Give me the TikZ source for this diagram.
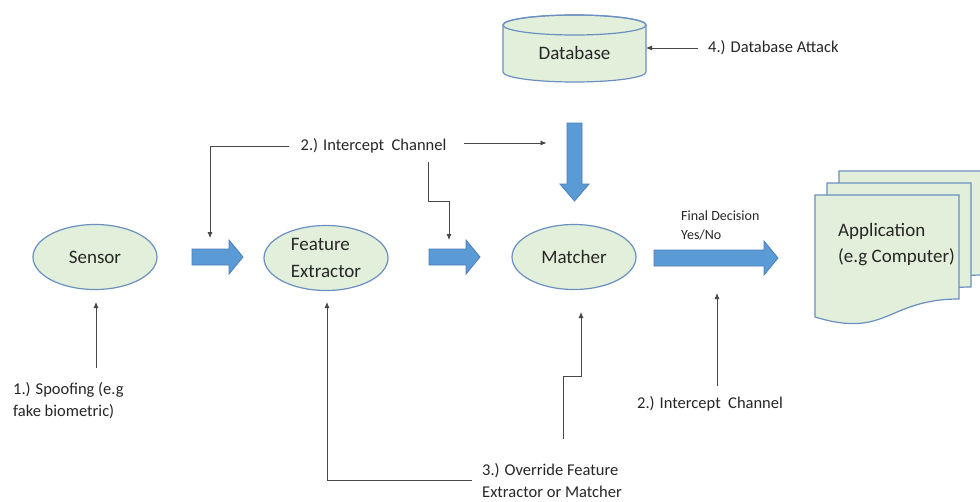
\documentclass[tikz,border=0pt]{standalone}
\usepackage{fontspec}
\setmainfont{Carlito}
\usetikzlibrary{shapes.geometric,arrows.meta}
\definecolor{boxfill}{HTML}{E2EFDA}
\definecolor{boxline}{HTML}{6A8FC0}
\definecolor{flowblue}{HTML}{5B9BD5}
\definecolor{flowedge}{HTML}{4A7EBB}
\definecolor{ink}{HTML}{262626}

% thick blue block arrow pointing right: x start, x end, y centre
\newcommand\rightflow[3]{%
  \path[flow] (#1,#3-8) -- (#2-14,#3-8) -- (#2-14,#3-17) -- (#2,#3)
    -- (#2-14,#3+17) -- (#2-14,#3+8) -- (#1,#3+8) -- cycle;}
% one page of the document stack, given its top-left corner
\newcommand\docsheet[2]{%
  \path[sheet] (#1,#2) -- (#1+144,#2) -- (#1+144,#2+104)
    .. controls (#1+72,#2+104) and (#1+72,#2+144) .. (#1,#2+122) -- cycle;}

\begin{document}
\begin{tikzpicture}[x=1pt,y=-1pt,
  stage/.style={ellipse, draw=boxline, fill=boxfill, line width=1.2pt,
    minimum width=124pt, minimum height=65pt, inner sep=0pt,
    font=\fontsize{19}{27}\selectfont, text=ink, align=left},
  sheet/.style={draw=boxline, fill=boxfill, line width=1.2pt},
  flow/.style={fill=flowblue, draw=flowedge, line width=0.8pt},
  lbl/.style={font=\fontsize{16.5}{22}\selectfont, text=ink, inner sep=0pt, align=left},
  small/.style={font=\fontsize{14}{19}\selectfont, text=ink, inner sep=0pt, align=left},
  attack/.style={draw=ink!85, line width=0.8pt, -{Latex[length=6pt,width=5pt]}},
  plain/.style={draw=ink!85, line width=0.8pt}]

\path[use as bounding box, fill=white] (0,0) rectangle (980,501);

% database cylinder
\path[sheet] (503,25) -- (503,72)
  arc[start angle=180, end angle=0, x radius=71.5, y radius=10]
  -- (646,25)
  arc[start angle=0, end angle=-180, x radius=71.5, y radius=10] -- cycle;
\draw[boxline, line width=1.2pt] (574.5,25) ellipse [x radius=71.5, y radius=10];
\node[font=\fontsize{19}{23}\selectfont, text=ink, inner sep=0pt] (db) at (574.5,52.5) {Database};

% processing stages
\node[stage] (sensor) at (95,257) {Sensor};
\node[stage] (fe) at (326,258) {Feature\\Extractor};
\node[stage] (matcher) at (574,257) {Matcher};

% application document stack
\docsheet{839}{171}
\docsheet{827}{183}
\docsheet{815}{195}
\node[font=\fontsize{19}{26}\selectfont, text=ink, inner sep=0pt, align=left, anchor=west]
  (app) at (838,245) {Application\\(e.g Computer)};

% data flow arrows
\rightflow{192}{243}{257}
\rightflow{429}{480}{257}
\rightflow{654}{778}{258}
\path[flow] (567,123) -- (582,123) -- (582,184) -- (589,184) -- (574.5,201)
  -- (560,184) -- (567,184) -- cycle;
\node[small] (decision) at (681,225.5) [anchor=west] {Final Decision\\Yes/No};

% 4.) database attack
\node[lbl, anchor=west] (dbatk) at (708,48) {4.) Database Attack};
\draw[attack] ([xshift=-10pt]dbatk.west) -- (646,48);

% 2.) intercept channel, upper
\node[lbl] (ic1) at (373.5,146) {2.) Intercept\ \ Channel};
\coordinate (fxin) at (210,238);
\draw[attack] ([xshift=-11pt]ic1.west) -| (fxin);
\draw[attack] ([xshift=17pt,yshift=3pt]ic1.east) -- ++(83,0);
\draw[attack] (428,162) -- ++(0,39) -- ++(21,0) -- ++(0,39);

% 1.) spoofing
\node[lbl, anchor=west] (spoof) at (13,401) {1.) Spoofing (e.g\\fake biometric)};
\coordinate (spooftop) at (96,302);
\draw[attack] (96,368) -- (spooftop);

% 3.) override feature extractor or matcher
\node[lbl, anchor=west] (ovr) at (482,481) {3.) Override Feature\\Extractor or Matcher};
\coordinate (fetip) at (327,302);
\draw[attack] ([xshift=-10pt,yshift=1pt]ovr.west) -| (fetip);
\draw[attack] (563,439) -- (563,376) -- (581,376) -- (581,312);

% 2.) intercept channel, lower
\node[lbl, anchor=west] (ic2) at (637,404) {2.) Intercept\ \ Channel};
\coordinate (dectip) at (717,293);
\draw[attack] (717,386) -- (dectip);

\end{tikzpicture}
\end{document}
